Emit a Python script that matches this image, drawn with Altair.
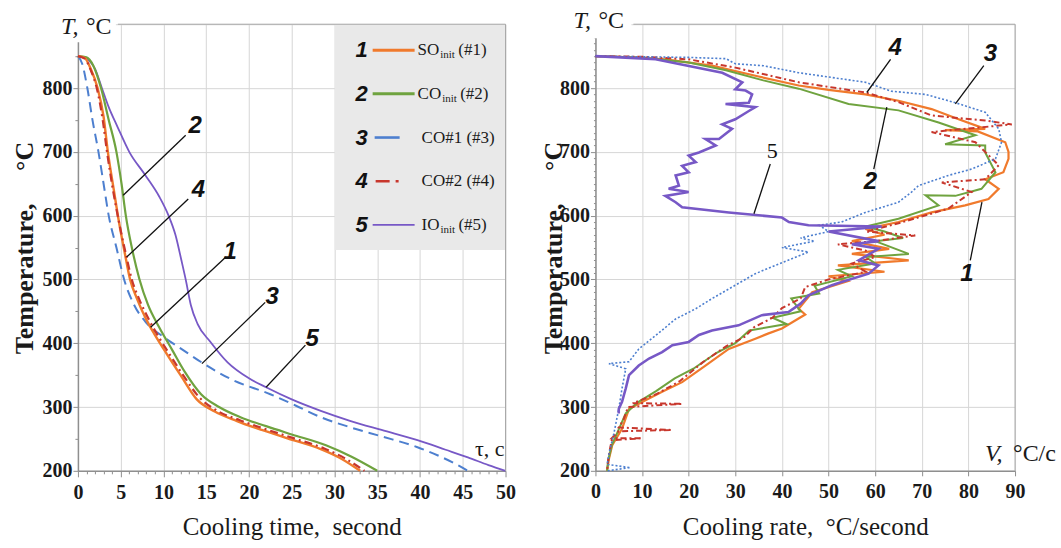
import altair as alt
import pandas as pd

SERIF = "Liberation Serif"
SANS = "Liberation Sans"

# ---------------- series ----------------
series_ids = ["1", "2", "3", "4", "5"]
series_main = ["SO", "CO", "CO#1 (#3)", "CO#2 (#4)", "IO"]
series_sub = ["init", "init", "", "", "init"]
series_tag = ["(#1)", "(#2)", "", "", "(#5)"]
series_colors = ["#f07a2c", "#6fa33f", "#4d7fcf", "#c8372d", "#7758c6"]

# ---------------- left panel: temperature vs cooling time ----------------
time_1 = [0, 0.8, 1.5, 2.3, 3.0, 3.5, 4.2, 4.8, 5.5, 6.1, 6.9, 8.0, 9.0, 10.4, 12.0, 13.9, 16.0, 18.6, 21.5, 24.5, 28.4, 30.8, 33.0]
temp_1 = [850, 847, 830, 800, 755, 700, 640, 590, 540, 500, 470, 437, 413, 383, 350, 312, 293, 278, 264, 251, 234, 219, 200]
time_2 = [0, 1.0, 1.8, 2.7, 3.6, 4.5, 5.1, 5.6, 6.3, 7.2, 8.2, 9.5, 11.0, 12.5, 14.4, 16.5, 19.0, 22.0, 25.0, 29.0, 32.0, 35.0]
temp_2 = [850, 848, 835, 800, 750, 700, 650, 600, 550, 500, 460, 425, 390, 355, 320, 300, 284, 270, 257, 240, 222, 200]
time_3 = [0, 0.5, 1.1, 1.7, 2.4, 3.0, 3.6, 4.5, 5.4, 6.5, 8.0, 10.0, 12.0, 14.7, 18.0, 22.5, 25.5, 28.4, 31.9, 35.5, 39.7, 42.1, 44.0, 45.6]
temp_3 = [850, 838, 800, 750, 700, 650, 600, 550, 500, 462, 432, 410, 392, 368, 343, 320, 302, 284, 268, 254, 237, 224, 212, 200]
time_4 = [0, 0.8, 1.5, 2.2, 2.9, 3.4, 4.1, 4.8, 5.6, 6.3, 7.2, 8.3, 9.3, 10.7, 12.3, 14.2, 16.3, 19.0, 22.0, 25.0, 28.8, 31.3, 33.5]
temp_4 = [850, 846, 828, 800, 750, 700, 640, 590, 540, 500, 468, 437, 413, 383, 350, 315, 294, 279, 265, 252, 235, 219, 200]
time_5 = [0, 1.0, 2.0, 2.8, 3.6, 4.6, 6.0, 7.9, 9.5, 10.6, 11.4, 12.1, 12.6, 13.2, 14.0, 15.5, 17.5, 20.0, 22.0, 25.0, 28.4, 31.9, 35.5, 39.7, 43.0, 45.6, 48.0, 50.0]
temp_5 = [850, 846, 830, 800, 770, 740, 700, 663, 630, 600, 570, 530, 500, 460, 430, 402, 370, 345, 331, 312, 294, 278, 264, 248, 233, 221, 209, 200]

# ---------------- right panel: cooling rate vs temperature ----------------
rate_1 = [0, 5, 15, 25, 35, 43.6, 50, 57.9, 65, 72.1, 77.9, 83.6, 75, 82, 87.9, 88.6, 88.6, 87.5, 83.6, 86.5, 84.3, 79.3, 72.1, 65, 57.9, 62, 55, 63, 55, 67.2, 52, 62, 50, 54, 46.5, 43.6, 45, 40, 37, 34.3, 28.6, 23.6, 18.6, 14.3, 10, 7.2, 5.7, 3.6, 2.9, 2.5]
rtemp_1 = [850, 849, 845, 835, 818, 804, 797, 790, 780, 767, 751, 736, 734, 732, 715, 700, 689, 668, 657, 642, 626, 616, 605, 590, 579, 570, 560, 548, 540, 530, 522, 512, 505, 497, 480, 454, 445, 423, 415, 407, 391, 365, 339, 324, 308, 297, 266, 240, 219, 200]
rate_2 = [0, 10, 20, 28, 36, 43.6, 54.3, 65, 73.6, 81.5, 75, 83.6, 83.6, 85.8, 82.8, 77.2, 70.8, 73.6, 65, 58, 62, 66, 60, 67.2, 58, 60, 52, 55, 47, 48, 42, 44, 38, 41, 33, 30, 26, 21, 17, 13, 9, 6.5, 5, 3.5, 2.7, 2.5]
rtemp_2 = [850, 848, 840, 828, 812, 799, 775, 765, 746, 726, 712, 710, 699, 668, 642, 631, 632, 616, 595, 583, 575, 565, 560, 540, 535, 525, 515, 505, 490, 478, 470, 450, 440, 430, 420, 400, 385, 360, 345, 325, 307, 290, 265, 240, 215, 200]
rate_3 = [0, 10, 20, 28, 30, 36, 43.6, 57.9, 63.5, 70.8, 77.2, 83.6, 86.5, 87.1, 85.8, 80.7, 75.7, 69.3, 67.8, 65, 57.9, 52.8, 48, 50, 44, 47, 40, 45.7, 38.6, 34.3, 28.6, 25, 21.5, 17.2, 12.9, 9.3, 7.2, 2.9, 6.5, 5.7, 5, 4, 3, 2.5, 7.5, 2.5]
rtemp_3 = [850, 849, 848, 846, 838, 835, 824, 809, 795, 790, 777, 762, 736, 715, 689, 673, 663, 647, 637, 621, 605, 590, 585, 575, 565, 560, 550, 543, 522, 509, 485, 470, 454, 438, 412, 391, 371, 368, 360, 329, 297, 260, 230, 210, 205, 200]
rate_4 = [0, 10, 20, 30, 43.6, 57.9, 65, 72.1, 83.6, 89.3, 72.1, 81.5, 86.5, 83.6, 74.3, 80.7, 75.7, 65, 58, 68.6, 60, 52, 58, 60, 55, 58, 50, 45, 44, 40, 38, 34, 32, 28, 23, 18, 13, 8, 18.6, 7, 6, 5, 16.4, 5, 3.5, 10, 3.5, 3, 2.7, 2.5]
rtemp_4 = [850, 849, 845, 832, 809, 793, 778, 757, 749, 743, 731, 715, 679, 657, 652, 637, 611, 588, 575, 569, 560, 555, 545, 535, 525, 512, 500, 488, 470, 455, 440, 425, 410, 395, 370, 340, 320, 306, 305, 300, 280, 268, 264, 262, 251, 251, 248, 230, 215, 200]
rate_5 = [0, 12.9, 27.2, 31.5, 30, 32.2, 33.6, 32.9, 27.9, 34.3, 32.9, 30, 27.2, 29.3, 26.5, 23.6, 25.8, 22.2, 20, 21.5, 18.6, 20, 17.2, 17.9, 15.7, 20, 15, 17.2, 18.6, 28.6, 40, 41.5, 45.7, 61.4, 50, 60.7, 55, 60.7, 56.5, 60.7, 58.6, 52.8, 50.7, 45.7, 44, 41.4, 35.7, 30.7, 25, 22.2, 20, 16.5, 14.3, 11.5, 9.3, 7.2, 6.5, 5.7, 5, 5]
rtemp_5 = [850, 845, 824, 809, 798, 796, 790, 777, 775, 770, 764, 751, 743, 736, 720, 720, 710, 699, 694, 684, 678, 668, 663, 647, 642, 637, 631, 621, 613, 605, 597, 590, 585, 583, 575, 560, 555, 548, 530, 522, 509, 496, 491, 475, 462, 449, 444, 428, 420, 413, 402, 397, 386, 376, 365, 350, 329, 308, 297, 290]

# ---------------- curve labels with leader lines ----------------
left_labels = ["2", "4", "1", "3", "5"]
left_label_t = [13.7, 14.1, 17.8, 22.7, 27.4]
left_label_T = [741, 640, 543, 472, 407]
left_lead_t0 = [5.3, 5.7, 8.5, 14.5, 22.0]
left_lead_T0 = [632, 535, 425, 368, 331]
left_lead_t1 = [12.6, 12.9, 17.3, 21.9, 26.6]
left_lead_T1 = [726, 626, 535, 464, 397]

right_labels = ["4", "3", "2", "1"]
right_label_V = [64.3, 84.7, 59.0, 79.7]
right_label_T = [863, 853, 652, 509]
right_lead_V0 = [58.2, 77.2, 62.5, 82.9, 34.0]
right_lead_T0 = [793, 775, 770, 621, 603]
right_lead_V1 = [63.3, 83.3, 59.7, 80.4, 37.5]
right_lead_T1 = [845, 835, 673, 530, 681]
right_label5_V = [37.9]
right_label5_T = [702]

# ---------------- layout ----------------
W_L, W_R, H = 428, 420, 447


def cond(test, a, b):
    return {"condition": {"test": test, "value": a}, "value": b}


common_axis = dict(
    domainColor="#8f8f8f", domainWidth=1.5, tickColor="#8f8f8f", tickWidth=1,
    gridColor="#d6d6d6", gridWidth=1,
    labelFont=SERIF, labelFontSize=20, labelFontWeight="bold", labelColor="#1a1a1a",
    titleFont=SERIF, titleColor="#1a1a1a", labelFlush=False, labelOverlap=False,
)

ax_x_left = alt.Axis(
    values=list(range(0, 51)),
    labelExpr="datum.value % 5 === 0 ? datum.label : ''",
    gridOpacity=cond("datum.value % 5 === 0", 1, 0),
    tickSize=cond("datum.value % 5 === 0", 6, 3),
    labelPadding=6, titleFontSize=25, titleFontWeight="normal",
    titleY=56, titleBaseline="middle", **common_axis)

ax_x_right = alt.Axis(
    values=list(range(0, 91, 10)),
    tickSize=5, labelPadding=6, titleFontSize=25, titleFontWeight="normal",
    titleY=56, titleBaseline="middle", **common_axis)

ax_y_left = alt.Axis(
    values=list(range(200, 901, 50)),
    labelExpr="datum.value % 100 === 0 && datum.value < 900 ? datum.label : ''",
    gridOpacity=cond("datum.value % 100 === 0", 1, 0),
    tickSize=cond("datum.value % 100 === 0", 5, 3),
    labelPadding=1, titleFontSize=26, titleFontWeight="bold",
    titleX=-53, titleBaseline="middle", **common_axis)

ax_y_right = alt.Axis(
    values=list(range(200, 901, 10)),
    labelExpr="datum.value % 100 === 0 && datum.value < 900 ? datum.label : ''",
    gridOpacity=cond("datum.value % 100 === 0", 1, 0),
    tickSize=cond("datum.value % 100 === 0", 5, 2),
    labelPadding=1, titleFontSize=26, titleFontWeight="bold",
    titleX=-42, titleBaseline="middle", **common_axis)

x_left_scale = alt.Scale(domain=[0, 50], nice=False, zero=False)
x_right_scale = alt.Scale(domain=[0, 90], nice=False, zero=False)
y_scale = alt.Scale(domain=[200, 900], nice=False, zero=False)

TITLE_X_LEFT = "Cooling time,\u00a0 second"
TITLE_X_RIGHT = "Cooling rate,\u00a0 °C/second"
TITLE_Y = "Temperature,\u00a0\u00a0\u00a0\u00a0\u00a0°C"


def LX(f):
    return alt.X(f, type="quantitative", scale=x_left_scale, axis=ax_x_left, title=TITLE_X_LEFT)


def RX(f):
    return alt.X(f, type="quantitative", scale=x_right_scale, axis=ax_x_right, title=TITLE_X_RIGHT)


def LY(f):
    return alt.Y(f, type="quantitative", scale=y_scale, axis=ax_y_left, title=TITLE_Y)


def RY(f):
    return alt.Y(f, type="quantitative", scale=y_scale, axis=ax_y_right, title=TITLE_Y)


dummy = pd.DataFrame({"k": [0]})


def txt(text, x, y, size, font=SERIF, weight="normal", style="normal", align="left", color="#1a1a1a"):
    return alt.Chart(dummy).mark_text(
        text=text, font=font, fontSize=size, fontWeight=weight, fontStyle=style,
        align=align, baseline="middle", color=color,
    ).encode(x=alt.value(x), y=alt.value(y))


def hrule(x1, x2, y, color, width, dash=None):
    kw = dict(color=color, strokeWidth=width)
    if dash:
        kw["strokeDash"] = dash
    return alt.Chart(dummy).mark_rule(**kw).encode(x=alt.value(x1), x2=alt.value(x2), y=alt.value(y))


def vrule(x, y1, y2, color, width):
    return alt.Chart(dummy).mark_rule(color=color, strokeWidth=width).encode(
        x=alt.value(x), y=alt.value(y1), y2=alt.value(y2))


def box(x1, x2, y1, y2, color):
    return alt.Chart(dummy).mark_rect(color=color).encode(
        x=alt.value(x1), x2=alt.value(x2), y=alt.value(y1), y2=alt.value(y2))


# ---------------- left panel ----------------
left_times = [time_1, time_2, time_3, time_4, time_5]
left_temps = [temp_1, temp_2, temp_3, temp_4, temp_5]
left_style = {
    0: dict(width=2.4, dash=None),
    1: dict(width=2.2, dash=None),
    2: dict(width=2.0, dash=[10, 6]),
    3: dict(width=2.2, dash=[8, 4, 2, 4]),
    4: dict(width=1.8, dash=None),
}
left_layers = [box(257, W_L, 0, 226, "#e9e9e9")]
for k in [4, 2, 1, 0, 3]:
    df = pd.DataFrame({"t": left_times[k], "T": left_temps[k]})
    mk = dict(color=series_colors[k], strokeWidth=left_style[k]["width"], interpolate="monotone")
    if left_style[k]["dash"]:
        mk["strokeDash"] = left_style[k]["dash"]
    left_layers.append(alt.Chart(df).mark_line(**mk).encode(x=LX("t"), y=LY("T")))

lead_l = pd.DataFrame({"t": left_lead_t0, "T": left_lead_T0, "t2": left_lead_t1, "T2": left_lead_T1})
left_layers.append(alt.Chart(lead_l).mark_rule(color="#111111", strokeWidth=1.3).encode(
    x=LX("t"), x2="t2", y=LY("T"), y2="T2"))
lab_l = pd.DataFrame({"t": left_label_t, "T": left_label_T, "lab": left_labels})
left_layers.append(alt.Chart(lab_l).mark_text(
    font=SANS, fontSize=24, fontWeight="bold", fontStyle="italic", color="#111111").encode(
    x=LX("t"), y=LY("T"), text="lab:N"))

# legend rows
row_y = [26 + i * 43.7 for i in range(5)]
main_x = [340, 340, 344, 344, 344]
main_w = [21.7, 23.6, 0, 0, 17.9]
leg_lines = [
    (295, 337, None, 3.0),
    (295, 337, None, 3.0),
    (297, 322, None, 2.6),
    (298, 330, [14, 6, 3, 20], 2.6),
    (295, 337, None, 1.6),
]
for i in range(5):
    y = row_y[i]
    x1, x2, dash, w = leg_lines[i]
    left_layers.append(hrule(x1, x2, y, series_colors[i], w, dash))
    left_layers.append(txt(series_ids[i], 284, y, 22, font=SANS, weight="bold", style="italic", align="center", color="#111111"))
    left_layers.append(txt(series_main[i], main_x[i], y, 17))
    if series_sub[i]:
        sx = main_x[i] + main_w[i] + 1
        left_layers.append(txt(series_sub[i], sx, y + 5, 11))
        left_layers.append(txt(series_tag[i], sx + 18, y, 17))

# frame, corner labels
left_layers.append(hrule(40, W_L, 0, "#a8a8a8", 1))
left_layers.append(vrule(W_L, 0, H, "#a8a8a8", 1))
left_layers.append(box(-22, 38, -14, 18, "#ffffff"))
left_layers.append(txt("T,", -17, 3, 24, style="italic"))
left_layers.append(txt("°C", 8, 3, 24))
left_layers.append(txt("τ, c", W_L - 1, 425, 22, align="right"))

left = alt.layer(*left_layers).properties(width=W_L, height=H)

# ---------------- right panel ----------------
right_rates = [rate_1, rate_2, rate_3, rate_4, rate_5]
right_temps = [rtemp_1, rtemp_2, rtemp_3, rtemp_4, rtemp_5]
right_style = {
    0: dict(width=2.2, dash=None),
    1: dict(width=2.0, dash=None),
    2: dict(width=1.6, dash=[2, 2]),
    3: dict(width=2.0, dash=[6, 3, 2, 3]),
    4: dict(width=2.6, dash=None),
}
right_layers = []
for k in [0, 1, 3, 2, 4]:
    df = pd.DataFrame({"V": right_rates[k], "T": right_temps[k]})
    df["i"] = range(len(df))
    mk = dict(color=series_colors[k], strokeWidth=right_style[k]["width"], strokeJoin="miter")
    if right_style[k]["dash"]:
        mk["strokeDash"] = right_style[k]["dash"]
    right_layers.append(alt.Chart(df).mark_line(**mk).encode(
        x=RX("V"), y=RY("T"), order=alt.Order("i:Q")))

lead_r = pd.DataFrame({"V": right_lead_V0, "T": right_lead_T0, "V2": right_lead_V1, "T2": right_lead_T1})
right_layers.append(alt.Chart(lead_r).mark_rule(color="#111111", strokeWidth=1.3).encode(
    x=RX("V"), x2="V2", y=RY("T"), y2="T2"))
lab_r = pd.DataFrame({"V": right_label_V, "T": right_label_T, "lab": right_labels})
right_layers.append(alt.Chart(lab_r).mark_text(
    font=SANS, fontSize=24, fontWeight="bold", fontStyle="italic", color="#111111").encode(
    x=RX("V"), y=RY("T"), text="lab:N"))
lab_r5 = pd.DataFrame({"V": right_label5_V, "T": right_label5_T, "lab": ["5"]})
right_layers.append(alt.Chart(lab_r5).mark_text(font=SERIF, fontSize=22, color="#111111").encode(
    x=RX("V"), y=RY("T"), text="lab:N"))

right_layers.append(hrule(38, W_R, 0, "#a8a8a8", 1))
right_layers.append(vrule(W_R, 0, H, "#a8a8a8", 1))
right_layers.append(box(-26, 36, -16, 14, "#ffffff"))
right_layers.append(txt("T,", -22, -3, 24, style="italic"))
right_layers.append(txt("°C", 3, -3, 24))
right_layers.append(txt("V,", 390, 430, 24, style="italic"))
right_layers.append(txt("°C/c", 418, 430, 24))

right = alt.layer(*right_layers).properties(width=W_R, height=H)

chart = alt.hconcat(left, right, spacing=90, bounds="flush").properties(
    padding={"left": 12, "top": 8, "right": 5, "bottom": 5}
).configure_view(stroke=None)

chart.save("out.html", embed_options={"renderer": "svg", "actions": False})
